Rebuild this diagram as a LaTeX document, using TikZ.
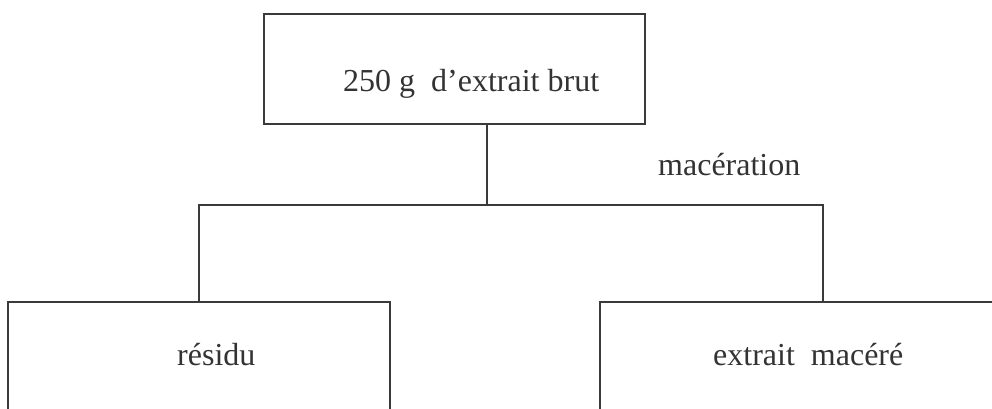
\documentclass[tikz,border=0pt]{standalone}
\usepackage{fontspec}
\setmainfont{Liberation Serif}
\definecolor{linegray}{HTML}{3A3A3A}
\definecolor{textgray}{HTML}{333333}
\tikzset{
  boxstyle/.style={draw=linegray, line width=2pt, inner sep=0pt, line join=miter},
  conn/.style={draw=linegray, line width=2pt},
  lbl/.style={text=textgray, font=\fontsize{32}{38}\selectfont, anchor=base west, inner sep=0pt}
}
\begin{document}
\begin{tikzpicture}[x=1pt,y=-1pt]
\clip (0,0) rectangle (992,409);
\node[boxstyle, minimum width=381pt, minimum height=110pt] (top) at (454.5,69) {};
\node[boxstyle, minimum width=382pt, minimum height=128pt] (left) at (199,366) {};
\node[boxstyle, minimum width=446pt, minimum height=128pt] (right) at (823,366) {};
\node[lbl] (toptext) at (343,92) {250 g~~d’extrait brut};
\node[lbl] (lefttext) at (177,365) {résidu};
\node[lbl] (righttext) at (713,365) {extrait~~macéré};
\node[lbl] (mac) at (658,175) {macération};
\coordinate (split) at (487,205);
\draw[conn] (top.south -| split) -- (split);
\draw[conn] (left.north) |- (split) -| (right.north);
\end{tikzpicture}
\end{document}
